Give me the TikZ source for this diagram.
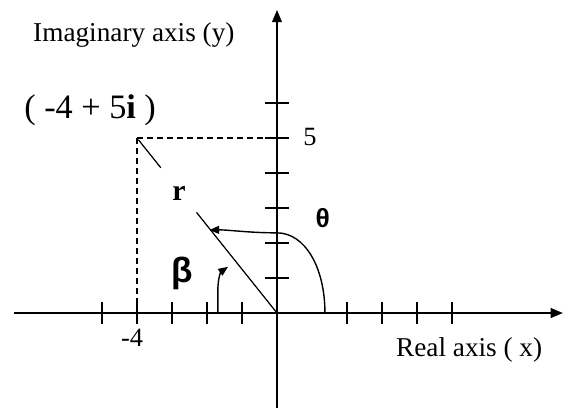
\documentclass[tikz,border=0pt]{standalone}
\usepackage{fontspec}
\setmainfont{Liberation Serif}
\newfontfamily\symfont{Liberation Sans}
\usepackage{tikz}
\usetikzlibrary{arrows.meta,calc}

\begin{document}
\begin{tikzpicture}[x=0.7cm,y=0.7cm,font=\fontsize{15.5}{18}\selectfont]
\useasboundingbox (-7.914,-2.971) rectangle (8.314,8.943);
\coordinate (O) at (0,0);
\coordinate (P) at (-4,5);
% axes and ticks
\draw[line width=1.1pt,-{Triangle[length=7pt,width=5.5pt]}] (-7.51,0) -- (8.17,0);
\draw[line width=1.1pt,-{Triangle[length=7pt,width=5.5pt]}] (0,-2.71) -- (0,8.66);
\foreach \i in {-5,-4,-3,-2,-1,2,3,4,5} {\draw[line width=0.8pt] (\i,-0.314) -- (\i,0.314);}
\foreach \j in {1,...,6} {\draw[line width=0.8pt] (-0.34,\j) -- (0.34,\j);}
% point and projections
\draw[line width=0.6pt,dash pattern=on 3.4pt off 2.3pt] (P) -- (0,5);
\draw[line width=0.6pt,dash pattern=on 3.4pt off 2.3pt] (P) -- (-4,0);
\draw[line width=0.7pt] ($(O)!0.99!(P)$) -- ($(O)!0.83!(P)$);
\draw[line width=0.7pt] ($(O)!0.575!(P)$) -- (O);
% angles
\draw[line width=0.8pt,-{Triangle[length=5.5pt,width=4.5pt]}] (1.37,0) .. controls (1.37,1.3) and (0.8,2.29) .. (0,2.29) .. controls (-0.8,2.29) and (-1.4,2.38) .. (-1.93,2.37);
\draw[line width=0.8pt,-{Triangle[length=5.5pt,width=4.5pt]}] (-1.69,0) -- (-1.69,0.65) .. controls (-1.69,1.0) and (-1.6,1.18) .. (-1.40,1.32);
% labels
\node (imag) at (-4.09,7.94) {Imaginary axis (y)};
\node (real) at (5.49,-1.06) {Real axis ( x)};
\node[font=\fontsize{19.5}{22}\selectfont] (pt) at (-5.34,5.8) {( -4 + 5\textbf{i} )};
\node[font=\fontsize{15}{18}\selectfont] (five) at (0.94,5.03) {5};
\node[font=\fontsize{15}{18}\selectfont] (mfour) at (-4.14,-0.71) {-4};
\node[font=\bfseries\fontsize{17}{20}\selectfont] (r) at (-2.8,3.43) {r};
\node[font=\symfont\bfseries\fontsize{15}{18}\selectfont] (theta) at (1.31,2.71) {θ};
\node[font=\symfont\bfseries\fontsize{20}{23}\selectfont] (beta) at (-2.71,1.14) {β};
\end{tikzpicture}
\end{document}
